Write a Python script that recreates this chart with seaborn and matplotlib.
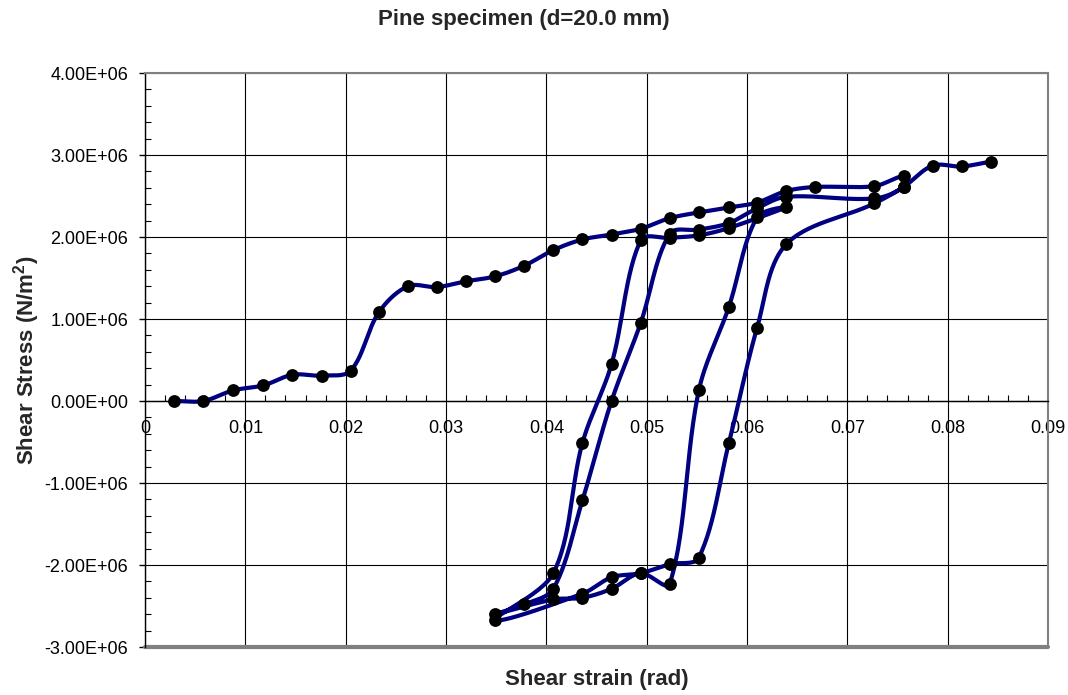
import numpy as np
import pandas as pd
import matplotlib
matplotlib.use("Agg")
import matplotlib.pyplot as plt
import seaborn as sns
from matplotlib.ticker import MultipleLocator, FuncFormatter

# ---------------- data (in drawing order of the single smoothed series) ----------------
strain = [
    0.0029, 0.0058, 0.0088, 0.0118, 0.0147, 0.0176, 0.0205, 0.0233, 0.0262, 0.0291,
    0.0320, 0.0349, 0.0378, 0.0407, 0.0436, 0.0465, 0.0494, 0.0523, 0.0552, 0.0582,
    0.0610, 0.0639, 0.0668, 0.0727, 0.0756, 0.0756,
    0.0727, 0.0639, 0.0610, 0.0582, 0.0552, 0.0523, 0.0494, 0.0465, 0.0436, 0.0407,
    0.0378, 0.0349,
    0.0407, 0.0436, 0.0465, 0.0494, 0.0523, 0.0552, 0.0582, 0.0610, 0.0639,
    0.0582, 0.0552, 0.0523, 0.0494, 0.0465, 0.0436, 0.0407, 0.0349,
    0.0436, 0.0465, 0.0494, 0.0523, 0.0552, 0.0582, 0.0610, 0.0639, 0.0727, 0.0756,
    0.0785, 0.0814, 0.0843,
]
stress_mpa = [
    0.00, 0.00, 0.13, 0.19, 0.32, 0.31, 0.37, 1.08, 1.40, 1.39,
    1.46, 1.52, 1.65, 1.84, 1.97, 2.03, 2.10, 2.23, 2.30, 2.36,
    2.42, 2.56, 2.61, 2.62, 2.74, 2.61,
    2.47, 2.49, 2.35, 2.17, 2.09, 2.04, 0.95, 0.00, -1.21, -2.29,
    -2.48, -2.60,
    -2.42, -2.40, -2.29, -2.10, -2.23, 0.13, 1.15, 2.24, 2.36,
    2.11, 2.02, 1.99, 1.96, 0.45, -0.51, -2.10, -2.67,
    -2.35, -2.15, -2.10, -1.99, -1.91, -0.51, 0.89, 1.91, 2.41, 2.61,
    2.87, 2.86, 2.92,
]

x_ticks = [0, 0.01, 0.02, 0.03, 0.04, 0.05, 0.06, 0.07, 0.08, 0.09]
y_ticks = [-3e6, -2e6, -1e6, 0, 1e6, 2e6, 3e6, 4e6]

title = "Pine specimen (d=20.0 mm)"
xlabel = "Shear strain (rad)"
ylabel = r"Shear Stress (N/m$^{2}$)"

# ---------------- figure ----------------
sns.set_theme(style="white")
plt.rcParams["font.family"] = ["Liberation Sans", "DejaVu Sans"]
plt.rcParams["mathtext.default"] = "regular"

W, H = 1068, 695
fig = plt.figure(figsize=(W / 100, H / 100), dpi=100)
L, R, T, B = 145, 1048, 73, 647
ax = fig.add_axes([L / W, 1 - B / H, (R - L) / W, (B - T) / H])

xmin, xmax = x_ticks[0], x_ticks[-1]
ymin, ymax = y_ticks[0], y_ticks[-1]
ax.set_xlim(xmin, xmax)
ax.set_ylim(ymin, ymax)

stress = np.array(stress_mpa) * 1e6
sx_arr = np.array(strain)

# Excel-like smoothing (chord-scaled Catmull-Rom Bezier) computed in pixel space
sx = (R - L) / (xmax - xmin)
sy = (B - T) / (ymax - ymin)


def smooth(xs, ys, n=30):
    P = np.column_stack([xs * sx, ys * sy])
    Pe = np.vstack([P[0], P, P[-1]])
    segs = []
    for i in range(len(P) - 1):
        p0, p1, p2, p3 = Pe[i], Pe[i + 1], Pe[i + 2], Pe[i + 3]
        d01 = np.linalg.norm(p1 - p0)
        d12 = np.linalg.norm(p2 - p1)
        d23 = np.linalg.norm(p3 - p2)
        m1 = (p2 - p0) / max(d01 + d12, 1e-9)
        m2 = (p3 - p1) / max(d12 + d23, 1e-9)
        c1 = p1 + m1 * d12 / 3.0
        c2 = p2 - m2 * d12 / 3.0
        t = np.linspace(0, 1, n, endpoint=(i == len(P) - 2))[:, None]
        b = (1 - t) ** 3 * p1 + 3 * (1 - t) ** 2 * t * c1 + 3 * (1 - t) * t ** 2 * c2 + t ** 3 * p2
        segs.append(b)
    Bz = np.vstack(segs)
    return Bz[:, 0] / sx, Bz[:, 1] / sy


cx, cy = smooth(sx_arr, stress)
curve = pd.DataFrame({"strain": cx, "stress": cy})
pts = pd.DataFrame({"strain": sx_arr, "stress": stress})

# grid
ax.set_xticks(x_ticks)
ax.set_yticks(y_ticks)
ax.xaxis.set_minor_locator(MultipleLocator(0.002))
ax.yaxis.set_minor_locator(MultipleLocator(2e5))
ax.grid(True, which="major", color="black", linewidth=0.8)
ax.set_axisbelow(True)

sns.lineplot(data=curve, x="strain", y="stress", sort=False, estimator=None,
             color="#000080", linewidth=3.0, ax=ax, zorder=3)
sns.scatterplot(data=pts, x="strain", y="stress", color="black", s=85,
                linewidth=0, ax=ax, zorder=4)

# spines
for s in ["top", "right"]:
    ax.spines[s].set_color("#808080")
    ax.spines[s].set_linewidth(1.5)
ax.spines["left"].set_color("black")
ax.spines["left"].set_linewidth(1.0)
ax.spines["bottom"].set_position(("data", 0))
ax.spines["bottom"].set_color("black")
ax.spines["bottom"].set_linewidth(1.0)
ax.axhline(ymin, color="#808080", linewidth=3, clip_on=False, zorder=2)

ax.xaxis.set_major_formatter(FuncFormatter(lambda v, p: "0" if abs(v) < 1e-12 else f"{v:.2f}"))
ax.yaxis.set_major_formatter(FuncFormatter(lambda v, p: f"{v:.2E}"))

ax.tick_params(axis="y", which="major", direction="out", length=4, width=1,
               color="black", labelsize=13, pad=8, left=True, labelcolor="black")
ax.tick_params(axis="y", which="minor", direction="in", length=4, width=0.8,
               color="black", left=True)
ax.tick_params(axis="x", which="major", direction="in", length=0, labelsize=13,
               pad=14, bottom=True, labelcolor="black")
ax.tick_params(axis="x", which="minor", direction="in", length=4, width=0.8,
               color="black", bottom=True)

ax.set_xlabel("")
ax.set_ylabel("")

fig.text(524 / W, 1 - 20 / H, title, ha="center", va="center",
         fontsize=16, fontweight="bold")
fig.text((L + R) / 2 / W, 1 - 680 / H, xlabel, ha="center", va="center",
         fontsize=16, fontweight="bold")
fig.text(27 / W, 1 - (T + B) / 2 / H, ylabel, ha="center", va="center",
         rotation=90, fontsize=16, fontweight="bold")

fig.savefig("out.png", dpi=100)
